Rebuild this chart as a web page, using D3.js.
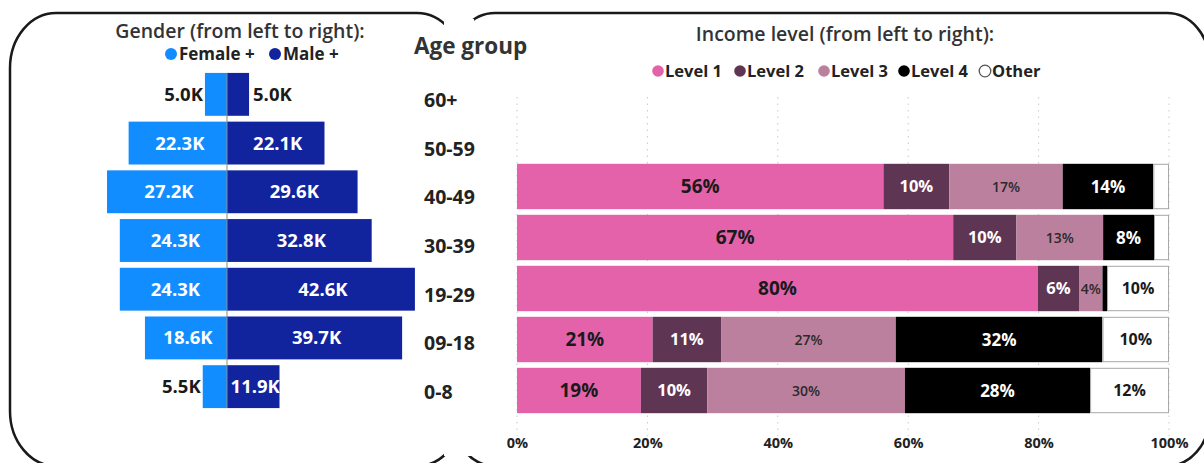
<!DOCTYPE html>
<html>
<head>
<meta charset="utf-8">
<script src="https://cdn.jsdelivr.net/npm/d3@7"></script>
<style>
  html, body { margin: 0; padding: 0; background: #fff; }
  svg { display: block; font-family: "Open Sans", "Noto Sans", sans-serif; }
</style>
</head>
<body>
<svg id="chart" width="1204" height="463"></svg>
<script>
// ---------- data ----------
const ageGroups = ["60+", "50-59", "40-49", "30-39", "19-29", "09-18", "0-8"];
const femaleK   = [5.0, 22.3, 27.2, 24.3, 24.3, 18.6, 5.5];
const maleK     = [5.0, 22.1, 29.6, 32.8, 42.6, 39.7, 11.9];

const incomeLevels = ["Level 1", "Level 2", "Level 3", "Level 4", "Other"];
const incomeGroups = ["40-49", "30-39", "19-29", "09-18", "0-8"];
const level1 = [56.2, 66.9, 79.9, 20.8, 19.0];
const level2 = [10.1,  9.7,  6.3, 10.5, 10.2];
const level3 = [17.4, 13.3,  3.6, 26.8, 30.3];
const level4 = [13.9,  7.8,  0.7, 31.7, 28.4];
const other  = [ 2.4,  2.3,  9.5, 10.2, 12.1];
const pctTicks = [0, 20, 40, 60, 80, 100];

const genderColors = { Female: "#118DFF", Male: "#12239E" };
const incomeColors = ["#E462AA", "#5F3554", "#BC809F", "#000000", "#FFFFFF"];

const svg = d3.select("#chart");

// ---------- panel frames ----------
const frames = svg.append("g");
frames.append("rect").attr("x", 10).attr("y", 13).attr("width", 453).attr("height", 453)
  .attr("rx", 46).attr("ry", 55).attr("fill", "none").attr("stroke", "#1a1a1a").attr("stroke-width", 2.5);
frames.append("rect").attr("x", 453).attr("y", 13).attr("width", 756).attr("height", 453)
  .attr("rx", 42).attr("ry", 48).attr("fill", "none").attr("stroke", "#1a1a1a").attr("stroke-width", 2.5);
// middle visual background covering the inner sides
frames.append("rect").attr("x", 444).attr("y", 19).attr("width", 30).attr("height", 437).attr("fill", "#fff");

// ---------- left: population pyramid ----------
const left = svg.append("g");
const xPop = d3.scaleLinear().domain([-45, 45]).range([28.5, 425.5]);
const yPop = d3.scaleBand().domain(ageGroups).range([70, 411]).paddingInner(0.12).paddingOuter(0.06);

left.append("text").attr("x", 240).attr("y", 38).attr("text-anchor", "middle")
  .attr("font-size", 19.5).attr("font-weight", 600).attr("fill", "#333")
  .text("Gender (from left to right):");

const gLegend = [{k: "Female", x: 171}, {k: "Male", x: 275}];
gLegend.forEach(d => {
  left.append("circle").attr("cx", d.x).attr("cy", 54).attr("r", 6).attr("fill", genderColors[d.k]);
  left.append("text").attr("x", d.x + 8).attr("y", 60).attr("font-size", 17).attr("font-weight", 700)
    .attr("fill", "#222").text(d.k + " +");
});

const popRows = ageGroups.map((g, i) => ({ g, f: femaleK[i], m: maleK[i] }));

left.selectAll("rect.f").data(popRows).join("rect").attr("class", "f")
  .attr("x", d => xPop(-d.f)).attr("width", d => xPop(0) - xPop(-d.f))
  .attr("y", d => yPop(d.g)).attr("height", yPop.bandwidth())
  .attr("fill", genderColors.Female);
left.selectAll("rect.m").data(popRows).join("rect").attr("class", "m")
  .attr("x", xPop(0)).attr("width", d => xPop(d.m) - xPop(0))
  .attr("y", d => yPop(d.g)).attr("height", yPop.bandwidth())
  .attr("fill", genderColors.Male);

left.append("line").attr("x1", xPop(0)).attr("x2", xPop(0))
  .attr("y1", yPop(ageGroups[0])).attr("y2", yPop(ageGroups[ageGroups.length - 1]) + yPop.bandwidth())
  .attr("stroke", "#8a8a8a").attr("stroke-width", 1);

const fmtK = v => v.toFixed(1) + "K";
popRows.forEach(d => {
  const cy = yPop(d.g) + yPop.bandwidth() / 2 + 6.5;
  const fw = xPop(0) - xPop(-d.f);
  const fin = fw >= 45;
  left.append("text")
    .attr("x", fin ? (xPop(-d.f) + xPop(0)) / 2 + 2 : xPop(-d.f) - 2)
    .attr("y", cy).attr("text-anchor", fin ? "middle" : "end")
    .attr("font-size", 18.5).attr("font-weight", 700).attr("fill", fin ? "#fff" : "#1a1a1a")
    .text(fmtK(d.f));
  const mw = xPop(d.m) - xPop(0);
  const min = mw >= 45;
  left.append("text")
    .attr("x", min ? (xPop(0) + xPop(d.m)) / 2 + 2 : xPop(d.m) + 4)
    .attr("y", cy).attr("text-anchor", min ? "middle" : "start")
    .attr("font-size", 18.5).attr("font-weight", 700).attr("fill", min ? "#fff" : "#1a1a1a")
    .text(fmtK(d.m));
});

// ---------- middle: age labels ----------
const mid = svg.append("g");
mid.append("text").attr("x", 414).attr("y", 54).attr("font-size", 22.5).attr("font-weight", 700)
  .attr("fill", "#333").text("Age group");
const yLab = d3.scaleBand().domain(ageGroups).range([75.5, 416.5]);
mid.selectAll("text.age").data(ageGroups).join("text").attr("class", "age")
  .attr("x", 424).attr("y", d => yLab(d) + yLab.bandwidth() / 2 + 7)
  .attr("font-size", 19.5).attr("font-weight", 700).attr("fill", "#222").text(d => d);

// ---------- right: income stacked bars ----------
const right = svg.append("g");
const xInc = d3.scaleLinear().domain([0, 100]).range([517, 1169]);
const yInc = d3.scaleBand().domain(ageGroups).range([59, 416]).paddingInner(0.11).paddingOuter(0.055);

right.append("text").attr("x", 845).attr("y", 41).attr("text-anchor", "middle")
  .attr("font-size", 19.5).attr("font-weight", 600).attr("fill", "#333")
  .text("Income level (from left to right):");

const iLegX = [658, 740, 824, 904, 985];
incomeLevels.forEach((k, i) => {
  right.append("circle").attr("cx", iLegX[i]).attr("cy", 71).attr("r", 5.8)
    .attr("fill", incomeColors[i]).attr("stroke", k === "Other" ? "#555" : "none").attr("stroke-width", 1.3);
  right.append("text").attr("x", iLegX[i] + 7).attr("y", 77).attr("font-size", 16.5).attr("font-weight", 700)
    .attr("fill", "#222").text(k);
});

// gridlines
right.selectAll("line.grid").data(pctTicks).join("line").attr("class", "grid")
  .attr("x1", d => xInc(d)).attr("x2", d => xInc(d)).attr("y1", 97).attr("y2", 436)
  .attr("stroke", "#c8c8c8").attr("stroke-width", 1).attr("stroke-dasharray", "1.5,5");

const incRows = incomeGroups.map((g, i) => {
  const vals = [level1[i], level2[i], level3[i], level4[i], other[i]];
  let acc = 0;
  return { g, segs: vals.map((v, j) => { const s = { g, j, x0: acc, x1: acc + v, v }; acc += v; return s; }) };
});
const segs = incRows.flatMap(r => r.segs);

right.selectAll("rect.seg").data(segs).join("rect").attr("class", "seg")
  .attr("x", d => xInc(d.x0)).attr("width", d => xInc(d.x1) - xInc(d.x0))
  .attr("y", d => yInc(d.g)).attr("height", yInc.bandwidth())
  .attr("fill", d => incomeColors[d.j]);
right.selectAll("rect.outl").data(segs.filter(d => d.j === 4)).join("rect").attr("class", "outl")
  .attr("x", d => xInc(d.x0) + 0.5).attr("width", d => xInc(d.x1) - xInc(d.x0) - 1)
  .attr("y", d => yInc(d.g) + 0.5).attr("height", yInc.bandwidth() - 1)
  .attr("fill", "none").attr("stroke", "#a8a8a8").attr("stroke-width", 1);

const labStyle = [
  { size: 19, weight: 700, fill: "#1a1a1a" },
  { size: 16.5, weight: 700, fill: "#ffffff" },
  { size: 14, weight: 600, fill: "#2a2a2a" },
  { size: 17, weight: 700, fill: "#ffffff" },
  { size: 16, weight: 700, fill: "#1a1a1a" }
];
right.selectAll("text.seglab").data(segs.filter(d => xInc(d.x1) - xInc(d.x0) >= 20)).join("text")
  .attr("class", "seglab")
  .attr("x", d => (xInc(d.x0) + xInc(d.x1)) / 2)
  .attr("y", d => yInc(d.g) + yInc.bandwidth() / 2 + labStyle[d.j].size * 0.36)
  .attr("text-anchor", "middle")
  .attr("font-size", d => labStyle[d.j].size).attr("font-weight", d => labStyle[d.j].weight)
  .attr("fill", d => labStyle[d.j].fill)
  .text(d => Math.round(d.v) + "%");

// x axis labels
const xAxis = d3.axisBottom(xInc).tickValues(pctTicks).tickFormat(d => d + "%").tickSize(0).tickPadding(0);
const ax = right.append("g").attr("transform", "translate(0,437)").call(xAxis);
ax.select(".domain").remove();
ax.selectAll("text").attr("font-size", 14.5).attr("font-weight", 700).attr("fill", "#222")
  .attr("font-family", "\"Open Sans\", sans-serif").attr("dy", "0.75em");
</script>
</body>
</html>
